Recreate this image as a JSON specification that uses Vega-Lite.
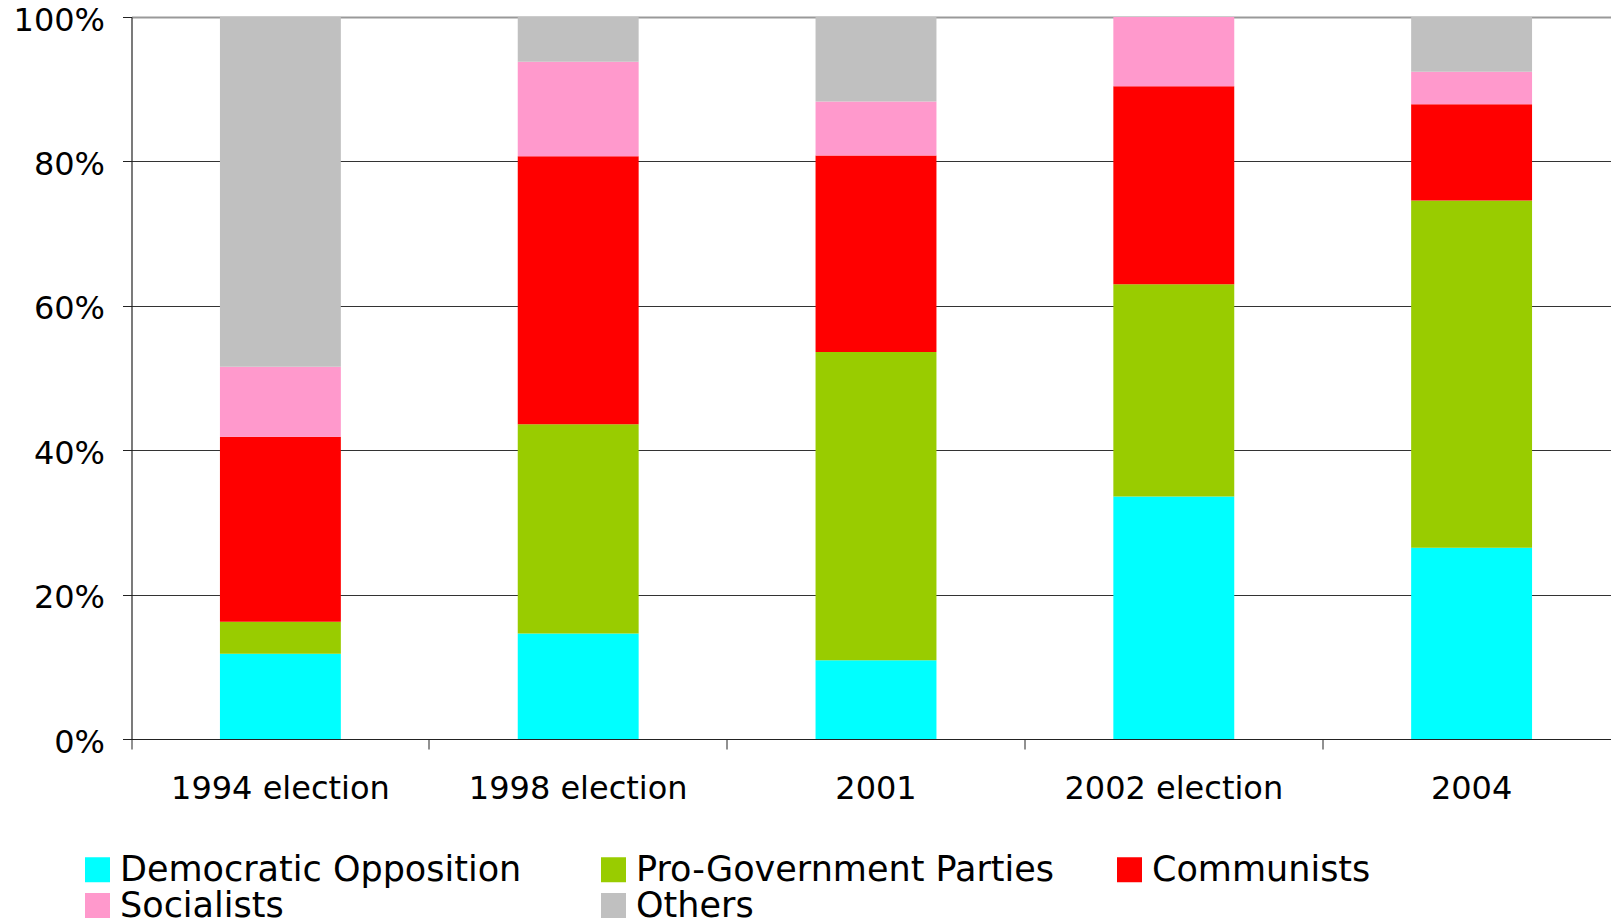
{
  "$schema": "https://vega.github.io/schema/vega-lite/v6.json",
  "width": 1489,
  "height": 722,
  "autosize": {"type": "none"},
  "padding": {"left": 131.5, "top": 17, "right": -9.5, "bottom": 184},
  "background": "white",
  "config": {
    "font": "DejaVu Sans",
    "view": {"stroke": null}
  },
  "data": {
    "values": [
      {"period": "1994 election", "party": "Democratic Opposition", "k": 1, "share": 11.8},
      {"period": "1994 election", "party": "Pro-Government Parties", "k": 2, "share": 4.45},
      {"period": "1994 election", "party": "Communists", "k": 3, "share": 25.6},
      {"period": "1994 election", "party": "Socialists", "k": 4, "share": 9.7},
      {"period": "1994 election", "party": "Others", "k": 5, "share": 48.45},
      {"period": "1998 election", "party": "Democratic Opposition", "k": 1, "share": 14.6},
      {"period": "1998 election", "party": "Pro-Government Parties", "k": 2, "share": 29.0},
      {"period": "1998 election", "party": "Communists", "k": 3, "share": 37.1},
      {"period": "1998 election", "party": "Socialists", "k": 4, "share": 13.1},
      {"period": "1998 election", "party": "Others", "k": 5, "share": 6.2},
      {"period": "2001", "party": "Democratic Opposition", "k": 1, "share": 10.9},
      {"period": "2001", "party": "Pro-Government Parties", "k": 2, "share": 42.7},
      {"period": "2001", "party": "Communists", "k": 3, "share": 27.2},
      {"period": "2001", "party": "Socialists", "k": 4, "share": 7.5},
      {"period": "2001", "party": "Others", "k": 5, "share": 11.7},
      {"period": "2002 election", "party": "Democratic Opposition", "k": 1, "share": 33.6},
      {"period": "2002 election", "party": "Pro-Government Parties", "k": 2, "share": 29.4},
      {"period": "2002 election", "party": "Communists", "k": 3, "share": 27.4},
      {"period": "2002 election", "party": "Socialists", "k": 4, "share": 9.6},
      {"period": "2002 election", "party": "Others", "k": 5, "share": 0},
      {"period": "2004", "party": "Democratic Opposition", "k": 1, "share": 26.5},
      {"period": "2004", "party": "Pro-Government Parties", "k": 2, "share": 48.1},
      {"period": "2004", "party": "Communists", "k": 3, "share": 13.3},
      {"period": "2004", "party": "Socialists", "k": 4, "share": 4.5},
      {"period": "2004", "party": "Others", "k": 5, "share": 7.6}
    ]
  },
  "mark": {"type": "bar", "width": {"band": 0.406}},
  "encoding": {
    "x": {
      "field": "period",
      "type": "nominal",
      "sort": null,
      "scale": {"paddingInner": 0, "paddingOuter": 0},
      "axis": {
        "title": null,
        "labelAngle": 0,
        "bandPosition": 0,
        "labelOffset": 0,
        "labelLimit": 0,
        "labelFont": "DejaVu Sans",
        "labelFontSize": 32,
        "labelColor": "#000",
        "labelPadding": 24,
        "ticks": true,
        "tickSize": 10,
        "tickColor": "#222",
        "domainColor": "#222",
        "domainWidth": 1.2,
        "grid": false
      }
    },
    "y": {
      "field": "share",
      "type": "quantitative",
      "stack": "normalize",
      "scale": {"domain": [0, 1], "nice": false},
      "axis": {
        "title": null,
        "values": [0, 0.2, 0.4, 0.6, 0.8, 1],
        "format": ".0%",
        "labelFont": "DejaVu Sans",
        "labelFontSize": 32,
        "labelColor": "#000",
        "labelPadding": 18,
        "labelOffset": 3,
        "tickSize": 9,
        "tickColor": "#222",
        "domainColor": "#222",
        "domainWidth": 1.2,
        "grid": true,
        "gridColor": {"condition": {"test": "datum.value >= 0.999", "value": "#999999"}, "value": "#333333"},
        "gridWidth": {"condition": {"test": "datum.value >= 0.999", "value": 2}, "value": 1}
      }
    },
    "color": {
      "field": "party",
      "type": "nominal",
      "scale": {
        "domain": ["Democratic Opposition", "Pro-Government Parties", "Communists", "Socialists", "Others"],
        "range": ["#00FFFF", "#99CC00", "#FF0000", "#FF99CC", "#C0C0C0"]
      },
      "legend": {
        "title": null,
        "orient": "none",
        "legendX": -51.5,
        "legendY": 835,
        "direction": "horizontal",
        "columns": 3,
        "gridAlign": "all",
        "columnPadding": 57,
        "rowPadding": 0,
        "padding": 0,
        "symbolType": "square",
        "symbolSize": 625,
        "symbolStrokeWidth": 0,
        "symbolOpacity": 1,
        "labelFont": "DejaVu Sans",
        "labelFontSize": 35,
        "labelColor": "#000",
        "labelOffset": 5,
        "labelLimit": 0
      }
    },
    "order": {"field": "k", "type": "quantitative", "sort": "ascending"}
  }
}
